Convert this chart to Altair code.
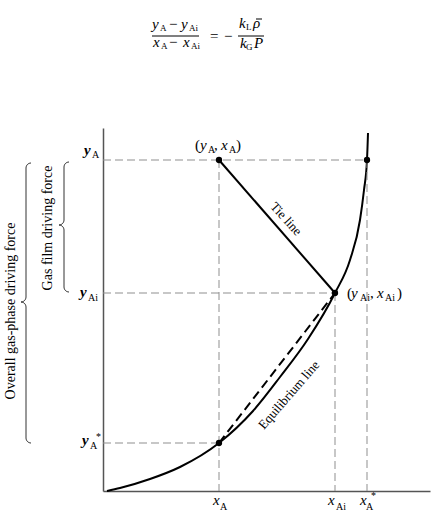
import altair as alt
import pandas as pd
import numpy as np

# ---- key values (plot units) ----
x_A, x_Ai, x_Astar = 116, 232, 264
y_A, y_Ai, y_Astar = 331, 198, 48
X_MAX, Y_MAX = 327, 363

# equilibrium curve
curve_x = [4, 17, 47, 77, 116, 150, 177, 205, 232, 247, 257, 261, 264, 265]
curve_y = [0, 3, 12, 24, 48, 80, 114, 152, 198, 231, 271, 301, 331, 358]

SERIF = "Liberation Serif"
L0, T0 = 103, 128  # plot origin on page

xs = alt.Scale(domain=[0, X_MAX], nice=False, zero=False)
ys = alt.Scale(domain=[0, Y_MAX], nice=False, zero=False)
ax_style = dict(domain=True, labels=False, ticks=False, grid=False, title=None,
                domainColor="#555", domainWidth=1.5)

curve_df = pd.DataFrame({"x": curve_x, "y": curve_y})
curve = alt.Chart(curve_df).mark_line(color="black", strokeWidth=2, interpolate="monotone").encode(
    x=alt.X("x:Q", scale=xs, axis=alt.Axis(**ax_style)),
    y=alt.Y("y:Q", scale=ys, axis=alt.Axis(**ax_style)),
)

guides_df = pd.DataFrame({
    "x": [0, 0, 0, x_A, x_Ai, x_Astar],
    "x2": [x_Astar, x_Ai, x_A, x_A, x_Ai, x_Astar],
    "y": [y_A, y_Ai, y_Astar, y_A, y_Ai, y_A],
    "y2": [y_A, y_Ai, y_Astar, 0, 0, 0],
})
guides = alt.Chart(guides_df).mark_rule(color="#8f8f8f", strokeWidth=1, strokeDash=[8, 4]).encode(
    x=alt.X("x:Q", scale=xs), x2="x2:Q", y=alt.Y("y:Q", scale=ys), y2="y2:Q")

tie_df = pd.DataFrame({"x": [x_A], "x2": [x_Ai], "y": [y_A], "y2": [y_Ai]})
tie = alt.Chart(tie_df).mark_rule(color="black", strokeWidth=2).encode(
    x=alt.X("x:Q", scale=xs), x2="x2:Q", y=alt.Y("y:Q", scale=ys), y2="y2:Q")

chord_df = pd.DataFrame({"x": [x_A], "x2": [x_Ai], "y": [y_Astar], "y2": [y_Ai]})
chord = alt.Chart(chord_df).mark_rule(color="black", strokeWidth=2, strokeDash=[9, 5]).encode(
    x=alt.X("x:Q", scale=xs), x2="x2:Q", y=alt.Y("y:Q", scale=ys), y2="y2:Q")

pts_df = pd.DataFrame({"x": [x_A, x_Ai, x_Astar, x_A], "y": [y_A, y_Ai, y_A, y_Astar]})
pts = alt.Chart(pts_df).mark_circle(color="black", size=40, opacity=1).encode(
    x=alt.X("x:Q", scale=xs), y=alt.Y("y:Q", scale=ys))


def brace(xsp, yt, yb, ym, w):
    px, py = [], []
    def arc(cx, cy, a0, a1):
        for a in np.linspace(np.radians(a0), np.radians(a1), 8):
            px.append(cx + w * np.cos(a)); py.append(cy + w * np.sin(a))
    arc(xsp + w, yt - w, 90, 180)
    arc(xsp - w, ym + w, 0, -90)
    arc(xsp - w, ym - w, 90, 0)
    arc(xsp + w, yb + w, 180, 270)
    return px, py


bx1, by1 = brace(64 - L0, 491 - 162, 491 - 292, 491 - 225, 5)
bx2, by2 = brace(26 - L0, 491 - 163, 491 - 443, 491 - 302, 5)
brace_df = pd.DataFrame({
    "x": bx1 + bx2, "y": by1 + by2,
    "g": ["a"] * len(bx1) + ["b"] * len(bx2),
    "o": list(range(len(bx1))) + list(range(len(bx2))),
})
braces = alt.Chart(brace_df).mark_line(color="#333", strokeWidth=1).encode(
    x=alt.X("x:Q", scale=xs), y=alt.Y("y:Q", scale=ys), detail="g:N", order="o:Q")

dummy = pd.DataFrame({"a": [0]})


def T(s, ax, ay, size=15, italic=True, bold=False, align="left", baseline="alphabetic", angle=0):
    return alt.Chart(dummy).mark_text(
        text=s, font=SERIF, fontSize=size, fontStyle="italic" if italic else "normal",
        fontWeight="bold" if bold else "normal", align=align, baseline=baseline,
        angle=angle, color="black",
    ).encode(x=alt.value(ax - L0), y=alt.value(ay - T0))


def S(s, ax, ay, size=10):
    return T(s, ax, ay, size=size, italic=False)


def R(x1, x2, y, w=1):
    return alt.Chart(dummy).mark_rule(color="black", strokeWidth=w).encode(
        x=alt.value(x1 - L0), x2=alt.value(x2 - L0), y=alt.value(y - T0))


texts = [
    # formula
    T("y", 152, 29), S("A", 160, 31, 9), T("−", 169, 29, italic=False), T("y", 181, 29), S("Ai", 189, 31, 9),
    T("x", 153, 47), S("A", 161, 49, 9), T("−", 169, 47, italic=False), T("x", 183, 47), S("Ai", 191, 49, 9),
    T("=", 210, 41, italic=False), T("−", 224, 41, italic=False),
    T("k", 239, 28), S("L", 246, 30, 9), T("ρ", 253, 28),
    T("k", 240, 48), S("G", 246, 50, 9), T("P", 254, 48),
    # y labels
    T("y", 84, 155, bold=True), S("A", 92, 158),
    T("y", 80, 297, bold=True), S("Ai", 88, 301),
    T("y", 82, 445, bold=True), S("A", 90, 449), S("*", 96, 440, 10),
    # x labels
    T("x", 213, 505), S("A", 220, 510),
    T("x", 328, 505), S("Ai", 336, 510),
    T("x", 360, 505), S("A", 366, 510), S("*", 371, 499, 10),
    # point labels
    T("(", 195, 150, italic=False), T("y", 200, 150), S("A", 208, 153), T(",", 214, 150, italic=False),
    T("x", 221, 150), S("A", 229, 153), T(")", 236, 150, italic=False),
    T("(", 347, 298, italic=False), T("y", 351, 298), S("Ai", 360, 301), T(",", 370, 298, italic=False),
    T("x", 377, 298), S("Ai", 385, 301), T(")", 397, 298, italic=False),
    # line labels
    T("Tie line", 286, 219, size=13, italic=False, align="center", baseline="middle", angle=48),
    T("Equilibrium line", 289, 395, size=13, italic=False, align="center", baseline="middle", angle=311),
    T("Gas film driving force", 48, 228, size=14, italic=False, align="center", baseline="middle", angle=270),
    T("Overall gas-phase driving force", 11, 311, size=14, italic=False, align="center", baseline="middle", angle=270),
]

bars = [R(152, 199, 36), R(238, 264, 36), R(256, 262, 19)]

chart = alt.layer(curve, guides, tie, chord, braces, pts, *bars, *texts).properties(
    width=X_MAX, height=Y_MAX,
    padding={"left": L0, "top": T0, "right": 4, "bottom": 35},
    autosize=alt.AutoSizeParams(type="none"),
).configure_view(stroke=None)

chart.save("out.html", embed_options={"renderer": "svg", "actions": False})
